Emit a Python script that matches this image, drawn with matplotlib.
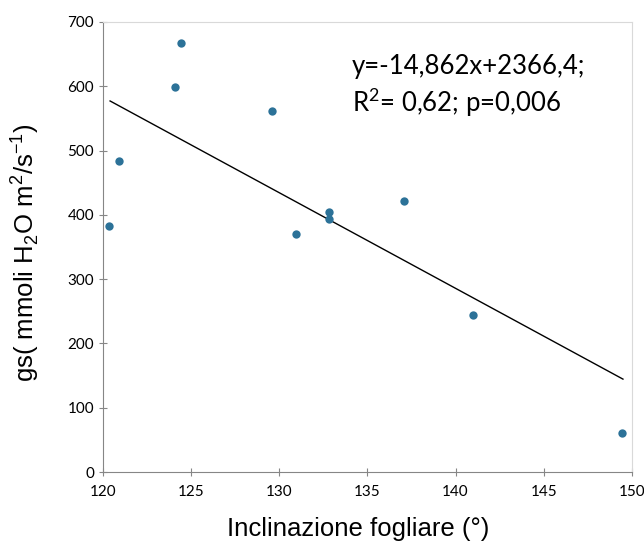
import matplotlib.pyplot as plt
import numpy as np

# leaf inclination (deg) vs stomatal conductance
incl = [120.36, 120.93, 124.09, 124.43, 129.6, 130.95, 132.8, 132.8, 137.05, 140.97, 149.45]
gs = [382, 484, 598, 667, 561, 370, 404, 393, 422, 244, 60]

slope = -14.862
intercept = 2366.4
line_x = [120.4, 149.5]

fig = plt.figure(figsize=(6.44, 5.47), dpi=100)
ax = fig.add_axes([0.16, 0.137, 0.821, 0.823])

ax.scatter(incl, gs, s=36, color='#2c7298', zorder=3, linewidths=0)
lx = np.array(line_x)
ax.plot(lx, slope * lx + intercept, color='black', linewidth=1)

ax.set_xlim(120, 150)
ax.set_ylim(0, 700)
ax.set_xticks(range(120, 151, 5))
ax.set_yticks(range(0, 701, 100))

for s in ['left', 'bottom']:
    ax.spines[s].set_color('#868686')
for s in ['top', 'right']:
    ax.spines[s].set_color('#d9d9d9')
ax.tick_params(direction='inout', length=6, color='#868686', labelsize=11,
               labelcolor='#000000')
ax.tick_params(axis='x', pad=6)
for lab in ax.get_xticklabels() + ax.get_yticklabels():
    lab.set_family('Lato')

ax.set_xlabel('Inclinazione fogliare (°)', fontsize=18.5, family='Liberation Sans')
ax.set_ylabel('gs( mmoli H$_\\mathregular{2}$O m$^\\mathregular{2}$/s$^\\mathregular{-1}$)',
              fontsize=18.5, family='Liberation Sans')
ax.xaxis.set_label_coords(0.483, -0.1)
ax.yaxis.set_label_coords(-0.118, 0.487)

ax.text(0.47, 0.885, 'y=-14,862x+2366,4;', transform=ax.transAxes, fontsize=18.5, family='Lato')
ax.text(0.47, 0.80, 'R$^\\mathregular{2}$= 0,62; p=0,006', transform=ax.transAxes, fontsize=18.5, family='Lato')

fig.savefig('out.png', dpi=100)
